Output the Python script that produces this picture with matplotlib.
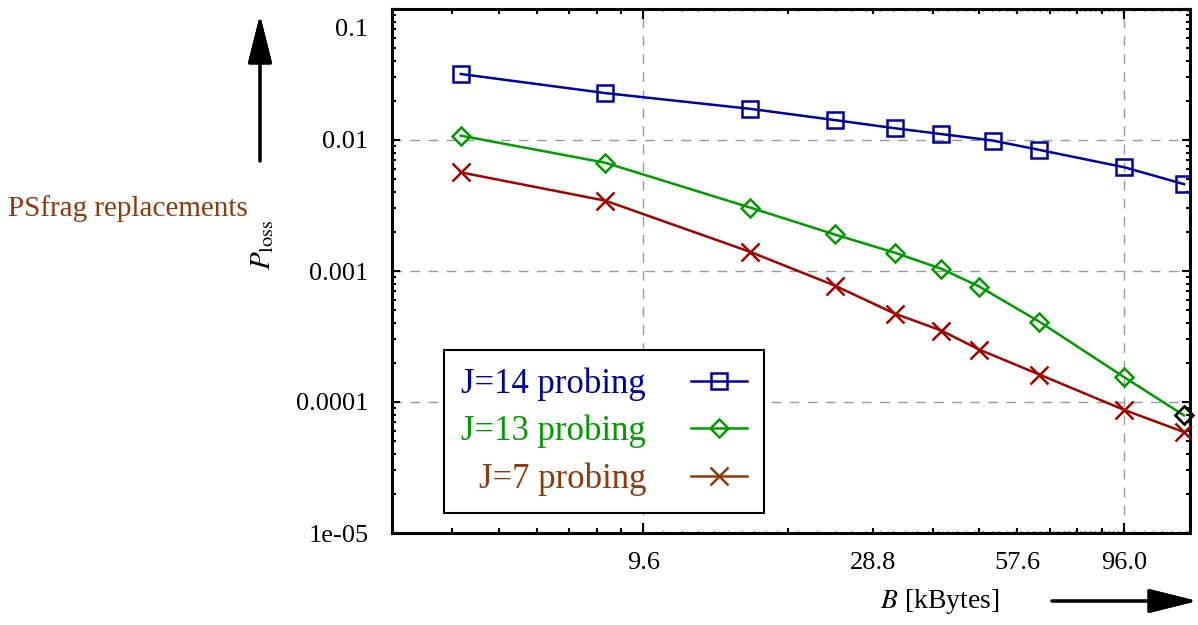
import numpy as np
import matplotlib
matplotlib.use("Agg")
import matplotlib.pyplot as plt
from matplotlib.lines import Line2D
from matplotlib.ticker import FixedLocator, NullFormatter

plt.rcParams['font.family'] = ['Liberation Serif', 'DejaVu Serif']
plt.rcParams['mathtext.fontset'] = 'stix'

# Buffer size B [kBytes] and loss probability
B_j14 = [4, 8, 16, 24, 32, 40, 51.2, 64, 96, 128]
P_j14 = [0.0319, 0.0228, 0.0173, 0.0142, 0.0123, 0.0111, 0.0099, 0.0084, 0.0062, 0.0046]

B_j13 = [4, 8, 16, 24, 32, 40, 48, 64, 96, 128]
P_j13 = [0.0108, 0.0067, 0.00305, 0.0019, 0.00138, 0.00104, 0.00076, 0.00041, 0.000155, 0.000079]

B_j7 = [4, 8, 16, 24, 32, 40, 48, 64, 96, 128]
P_j7 = [0.00566, 0.00344, 0.0014, 0.000774, 0.000473, 0.000351, 0.000251, 0.000162, 0.0000871, 0.0000589]

labels = ['J=14 probing', 'J=13 probing', 'J=7 probing']

# x axis ticks: packets of 0.96 kB
pkt = 0.96
major_pkts = [4, 5, 6, 7, 8, 9, 10, 20, 30, 40, 50, 60, 70, 80, 90, 100]
tick_text = {10: '9.6', 30: '28.8', 60: '57.6', 100: '96.0'}
minor_pkts = list(range(3, 20)) + list(range(21, 100, 2)) + list(range(105, 140, 5))
xgrid = [9.6, 96.0]

# y axis ticks
ytick_vals = [1e-5, 1e-4, 1e-3, 1e-2, 1e-1]
ytick_text = ['1e-05', '0.0001', '0.001', '0.01', '']

blue = '#0000a0'
green = '#009a00'
red = '#a00000'
brown = '#8c3a10'

fig = plt.figure(figsize=(11.98, 6.25), dpi=100)
ax = fig.add_axes([392 / 1198, 1 - 533 / 625, 798 / 1198, 524 / 625])

ax.set_xscale('log')
ax.set_yscale('log')
ax.set_xlim(2.877, 131.7)
ax.set_ylim(1e-5, 0.1)

# grid: horizontal at decades, vertical only at two positions
for yv in ytick_vals[1:-1]:
    ax.axhline(yv, color='#999999', lw=1.0, ls=(0, (7, 6)), zorder=1)
for xv in xgrid:
    ax.axvline(xv, color='#999999', lw=1.0, ls=(0, (7, 6)), zorder=1)

ax.plot(B_j14, P_j14, color=blue, lw=1.8, marker='s', ms=12, mfc='none', mew=1.8, zorder=3)
ax.plot(B_j13, P_j13, color=green, lw=1.8, marker='D', ms=9, mfc='none', mew=1.8, zorder=3)
ax.plot(B_j7, P_j7, color=red, lw=1.8, marker='x', ms=13, mew=1.8, zorder=3)
# last diamond is drawn in black in the original
ax.plot(B_j13[-1:], P_j13[-1:], ls='none', color='black', marker='D', ms=9, mfc='none', mew=1.8, zorder=4, clip_on=False)

# ticks
ax.xaxis.set_major_locator(FixedLocator([k * pkt for k in major_pkts]))
ax.xaxis.set_minor_locator(FixedLocator([k * pkt for k in minor_pkts]))
ax.set_xticklabels([tick_text.get(k, '') for k in major_pkts])
ax.xaxis.set_minor_formatter(NullFormatter())
ax.set_yticks(ytick_vals)
ax.set_yticklabels(ytick_text)

ax.tick_params(which='both', direction='in', top=True, right=True, width=1.5, labelsize=19)
ax.tick_params(axis='x', which='major', length=3.6, pad=14)
ax.tick_params(axis='x', which='minor', length=1.4, width=1.0)
ax.tick_params(axis='y', which='major', length=5.8, pad=17)
ax.tick_params(axis='y', which='minor', length=3.0)

for t in ax.xaxis.get_major_ticks():
    if np.isclose(t.get_loc(), 9.6) or np.isclose(t.get_loc(), 96.0):
        t.tick1line.set_markersize(7.2)
        t.tick2line.set_markersize(7.2)

for s in ax.spines.values():
    s.set_linewidth(2.2)

# the 0.1 label sits a bit below its tick
ax.annotate('0.1', xy=(0, 0.1), xycoords=('axes fraction', 'data'),
            xytext=(-17, -15), textcoords='offset points',
            ha='right', va='center', fontsize=19)

# legend with text on the left, samples on the right
handles = [
    Line2D([], [], color=blue, lw=1.8, marker='s', ms=12, mfc='none', mew=1.8),
    Line2D([], [], color=green, lw=1.8, marker='D', ms=9, mfc='none', mew=1.8),
    Line2D([], [], color=brown, lw=1.8, marker='x', ms=13, mew=1.8),
]
leg = ax.legend(handles, labels, loc='lower left', bbox_to_anchor=(0.065, 0.038),
                borderaxespad=0, markerfirst=False, fontsize=25, fancybox=False,
                framealpha=1, edgecolor='black', handlelength=1.6, handletextpad=1.3,
                labelspacing=0.4, borderpad=0.5)
leg.get_frame().set_linewidth(1.5)
for txt, c in zip(leg.get_texts(), [blue, green, brown]):
    txt.set_color(c)

# axis labels and arrows
fig.text(263, 625 - 245, r'$P_{\mathrm{loss}}$', rotation=90, ha='center', va='center',
         fontsize=21, transform=None)
fig.text(940, 625 - 601, r'$B$ [kBytes]', ha='center', va='center', fontsize=20, transform=None)
fig.text(8, 625 - 209, 'PSfrag replacements', ha='left', va='center', fontsize=21,
         color=brown, transform=None)

arrow = dict(arrowstyle='-|>,head_length=3.0,head_width=0.75', lw=2.2, color='black',
             mutation_scale=10, shrinkA=0, shrinkB=0)
fig.add_artist(plt.annotate('', xy=(260, 625 - 15), xycoords='figure pixels',
                            xytext=(260, 625 - 161), textcoords='figure pixels',
                            arrowprops=arrow))
fig.add_artist(plt.annotate('', xy=(1197, 625 - 601), xycoords='figure pixels',
                            xytext=(1052, 625 - 601), textcoords='figure pixels',
                            arrowprops=arrow))

fig.savefig('out.png', dpi=100)
